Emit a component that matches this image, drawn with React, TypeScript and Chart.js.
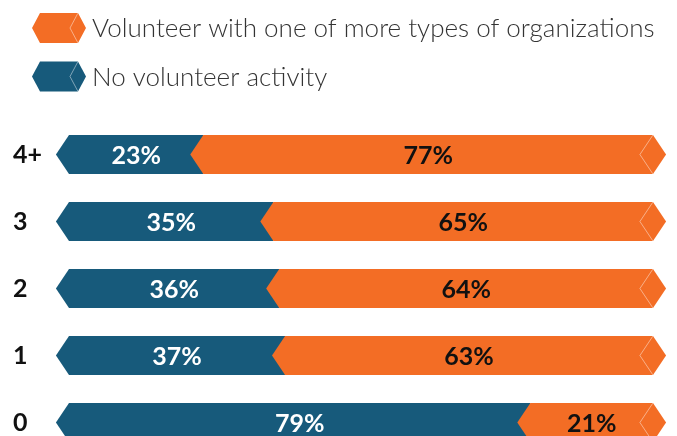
import React, { useEffect, useRef } from "react";
import { Chart, registerables } from "chart.js";

Chart.register(...registerables);

const categories = ["4+", "3", "2", "1", "0"];
const noVolunteer = [23, 35, 36, 37, 79];
const volunteer = [77, 65, 64, 63, 21];
const seriesLabels = ["No volunteer activity", "Volunteer with one of more types of organizations"];
const BLUE = "#175a7b";
const ORANGE = "#f36d25";

const shapesPlugin = {
  id: "hexBars",
  beforeDatasetsDraw(chart: any) {
    const ctx = chart.ctx;
    const n = chart.data.datasets.length;
    for (let d = 0; d < n; d++) {
      const meta = chart.getDatasetMeta(d);
      const color = chart.data.datasets[d].backgroundColor;
      meta.data.forEach((el: any) => {
        const { x, y, base, height } = el.getProps(["x", "y", "base", "height"], true);
        const top = y - height / 2;
        const bot = y + height / 2;
        const tip = height / 3;
        ctx.save();
        ctx.beginPath();
        ctx.moveTo(base, top);
        ctx.lineTo(x, top);
        if (d === n - 1) ctx.lineTo(x + tip, y);
        ctx.lineTo(x, bot);
        ctx.lineTo(base, bot);
        ctx.lineTo(base - tip, y);
        ctx.closePath();
        ctx.fillStyle = color;
        ctx.fill();
        if (d === n - 1) {
          ctx.beginPath();
          ctx.moveTo(x, top);
          ctx.lineTo(x - tip, y);
          ctx.lineTo(x, bot);
          ctx.strokeStyle = "rgba(255,255,255,0.45)";
          ctx.lineWidth = 1;
          ctx.stroke();
        }
        ctx.restore();
      });
    }
    return false;
  },
  afterDraw(chart: any) {
    const ctx = chart.ctx;
    // value labels
    chart.data.datasets.forEach((ds: any, d: number) => {
      const meta = chart.getDatasetMeta(d);
      meta.data.forEach((el: any, i: number) => {
        const { x, y, base } = el.getProps(["x", "y", "base"], true);
        ctx.save();
        ctx.font = "bold 25px Lato";
        ctx.textAlign = "center";
        ctx.textBaseline = "middle";
        ctx.fillStyle = d === 0 ? "#ffffff" : "#111111";
        ctx.fillText(ds.data[i] + "%", (x + base) / 2, y + 1);
        ctx.restore();
      });
    });
    // legend
    const items = [
      { label: chart.data.datasets[1].label, color: chart.data.datasets[1].backgroundColor, cy: 28 },
      { label: chart.data.datasets[0].label, color: chart.data.datasets[0].backgroundColor, cy: 76.5 },
    ];
    items.forEach((it) => {
      const l = 40, r = 78, h = 15, tip = 8;
      ctx.save();
      ctx.beginPath();
      ctx.moveTo(l, it.cy - h);
      ctx.lineTo(r, it.cy - h);
      ctx.lineTo(r + tip, it.cy);
      ctx.lineTo(r, it.cy + h);
      ctx.lineTo(l, it.cy + h);
      ctx.lineTo(l - tip, it.cy);
      ctx.closePath();
      ctx.fillStyle = it.color;
      ctx.fill();
      ctx.beginPath();
      ctx.moveTo(r, it.cy - h);
      ctx.lineTo(r - tip, it.cy);
      ctx.lineTo(r, it.cy + h);
      ctx.strokeStyle = "rgba(255,255,255,0.45)";
      ctx.lineWidth = 1;
      ctx.stroke();
      ctx.font = "300 26px Lato";
      ctx.fillStyle = "#333333";
      ctx.textAlign = "left";
      ctx.textBaseline = "middle";
      ctx.fillText(it.label, 92, it.cy + 1);
      ctx.restore();
    });
  },
};

export default function App() {
  const ref = useRef<HTMLCanvasElement>(null);
  useEffect(() => {
    document.body.style.margin = "0";
    const chart = new Chart(ref.current!, {
      type: "bar",
      data: {
        labels: categories,
        datasets: [
          { label: seriesLabels[0], data: noVolunteer, backgroundColor: BLUE },
          { label: seriesLabels[1], data: volunteer, backgroundColor: ORANGE },
        ],
      },
      options: {
        indexAxis: "y",
        animation: false,
        responsive: false,
        maintainAspectRatio: false,
        layout: { padding: { top: 121, left: 13, right: 24, bottom: 0 } },
        categoryPercentage: 0.585,
        barPercentage: 1,
        plugins: { legend: { display: false }, tooltip: { enabled: false } },
        scales: {
          x: { stacked: true, min: 0, max: 100, display: false },
          y: {
            stacked: true,
            grid: { display: false },
            border: { display: false },
            ticks: { crossAlign: "far", color: "#111111", font: { family: "Lato", weight: "bold", size: 25 }, padding: 0 },
            afterFit: (s: any) => { s.width = 56; },
          },
        },
      } as any,
      plugins: [shapesPlugin],
    });
    return () => chart.destroy();
  }, []);
  return (
    <div style={{ position: "fixed", left: 0, top: 0, width: 677, height: 436, overflow: "hidden", background: "#fff" }}>
      <canvas ref={ref} width={677} height={471} style={{ display: "block" }} />
    </div>
  );
}
